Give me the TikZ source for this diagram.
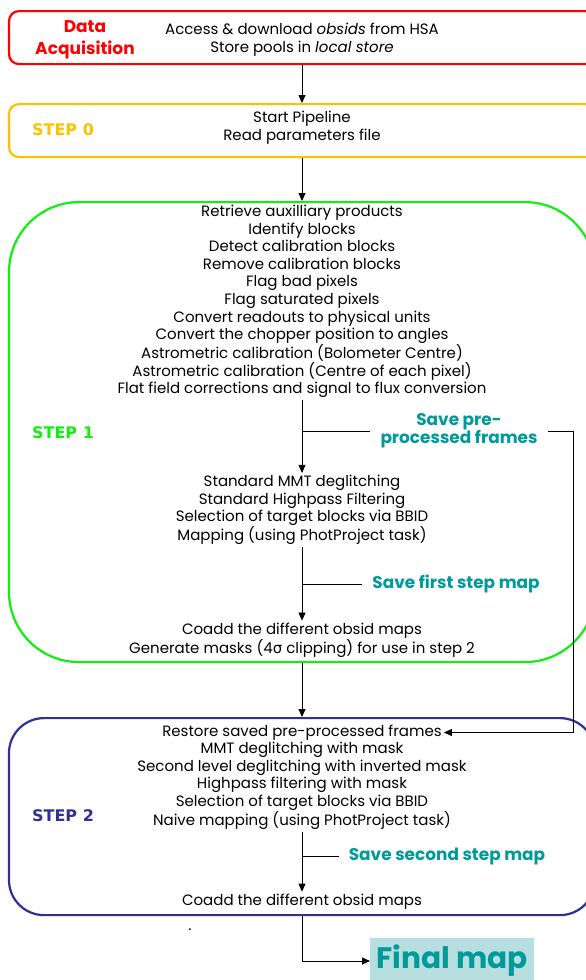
\documentclass[tikz,border=0pt]{standalone}
\usepackage{fontspec}
\setmainfont{Poppins}
\newfontfamily\labelfont{DejaVu Sans}
\usetikzlibrary{arrows.meta, positioning}

\definecolor{acqred}{HTML}{FF0000}
\definecolor{zeroyellow}{HTML}{FFC000}
\definecolor{onegreen}{HTML}{11EE11}
\definecolor{twoblue}{HTML}{2E3192}
\definecolor{saveteal}{HTML}{009A9A}
\definecolor{finalbg}{HTML}{B7DFE0}

\begin{document}
\begin{tikzpicture}[
  x=1pt, y=-1pt,
  stage/.style={rectangle, draw, line width=2.2pt, minimum width=586pt, anchor=north},
  body/.style={align=center, font=\fontsize{15}{17.6}\selectfont, inner sep=2pt},
  steplabel/.style={font=\labelfont\bfseries\fontsize{16}{18}\selectfont},
  save/.style={align=center, text=saveteal, font=\bfseries\fontsize{16.9}{18}\selectfont, inner sep=10pt},
  arrow/.style={-{Triangle[length=8pt, width=7pt]}, line width=0.8pt},
  branch/.style={line width=0.8pt},
]
\useasboundingbox (0,0) rectangle (586,980);

% Stages
\node[stage, draw=acqred, rounded corners=10pt, minimum height=53pt] (acq) at (302,10) {};
\node[stage, draw=zeroyellow, rounded corners=10pt, minimum height=53pt] (zero) at (302,103) {};
\node[stage, draw=onegreen, rounded corners=70pt, minimum height=460pt] (one) at (302,201) {};
\node[stage, draw=twoblue, rounded corners=35pt, minimum height=197pt] (two) at (302,717) {};

% Stage labels
\node[text=acqred, align=center, font=\bfseries\fontsize{17}{22}\selectfont] (acqlabel) at (85,40) {Data\\Acquisition};
\node[steplabel, text=zeroyellow] (zerolabel) at (63,130) {STEP 0};
\node[steplabel, text=onegreen] (onelabel) at (63,433) {STEP 1};
\node[steplabel, text=twoblue] (twolabel) at (63,816) {STEP 2};

% Tasks
\node[body] (access) at (302,40) {Access \& download \textit{obsids} from HSA\\Store pools in \textit{local store}};
\node[body] (start) at (302,128) {Start Pipeline\\Read parameters file};
\node[body] (prep) at (302,301.5) {Retrieve auxilliary products\\Identify blocks\\Detect calibration blocks\\
Remove calibration blocks\\Flag bad pixels\\Flag saturated pixels\\Convert readouts to physical units\\
Convert the chopper position to angles\\Astrometric calibration (Bolometer Centre)\\
Astrometric calibration (Centre of each pixel)\\Flat field corrections and signal to flux conversion};
\node[body] (mapone) at (302,510) {Standard MMT deglitching\\Standard Highpass Filtering\\
Selection of target blocks via BBID\\Mapping (using PhotProject task)};
\node[body] (coaddone) at (302,640) {Coadd the different obsid maps\\Generate masks (4{\labelfont σ} clipping) for use in step 2};
\node[body] (restore) at (302,732.5) {Restore saved pre-processed frames};
\node[body, below=-2.5pt of restore] (maptwo) {MMT deglitching with mask\\Second level deglitching with inverted mask\\
Highpass filtering with mask\\Selection of target blocks via BBID\\Naive mapping (using PhotProject task)};
\node[body] (coaddtwo) at (302,901.5) {Coadd the different obsid maps};
\node[body] (dot) at (190,930) {.};

% Saved products
\node[save] (saveframes) at (459,431) {Save pre-\\processed frames};
\node[save] (savefirst) at (456,584) {Save first step map};
\node[save] (savesecond) at (447,856) {Save second step map};
\node[fill=finalbg, text=saveteal, font=\bfseries\fontsize{29.6}{30}\selectfont, minimum width=164pt, minimum height=46pt, anchor=west] (final) at (370,961) {Final map};
\coordinate (return) at (573,0);

% Connections
\draw[arrow] (acq.south) -- (zero.north);
\draw[arrow] (zero.south) -- (one.north);
\draw[arrow] (prep.south) -- (mapone.north);
\draw[arrow] (mapone.south) -- (coaddone.north);
\draw[arrow] (one.south) -- (two.north);
\draw[arrow] (maptwo.south) -- (coaddtwo.north);
\draw[arrow] (two.south) |- (final.west);

\draw[branch] (prep.south |- saveframes) -- (saveframes.west);
\draw[branch] (mapone.south |- savefirst) -- (savefirst.west);
\draw[branch] (maptwo.south |- savesecond) -- (savesecond.west);
\draw[arrow] (saveframes.east) -- (saveframes.east -| return) |- (restore.east);

\end{tikzpicture}
\end{document}
